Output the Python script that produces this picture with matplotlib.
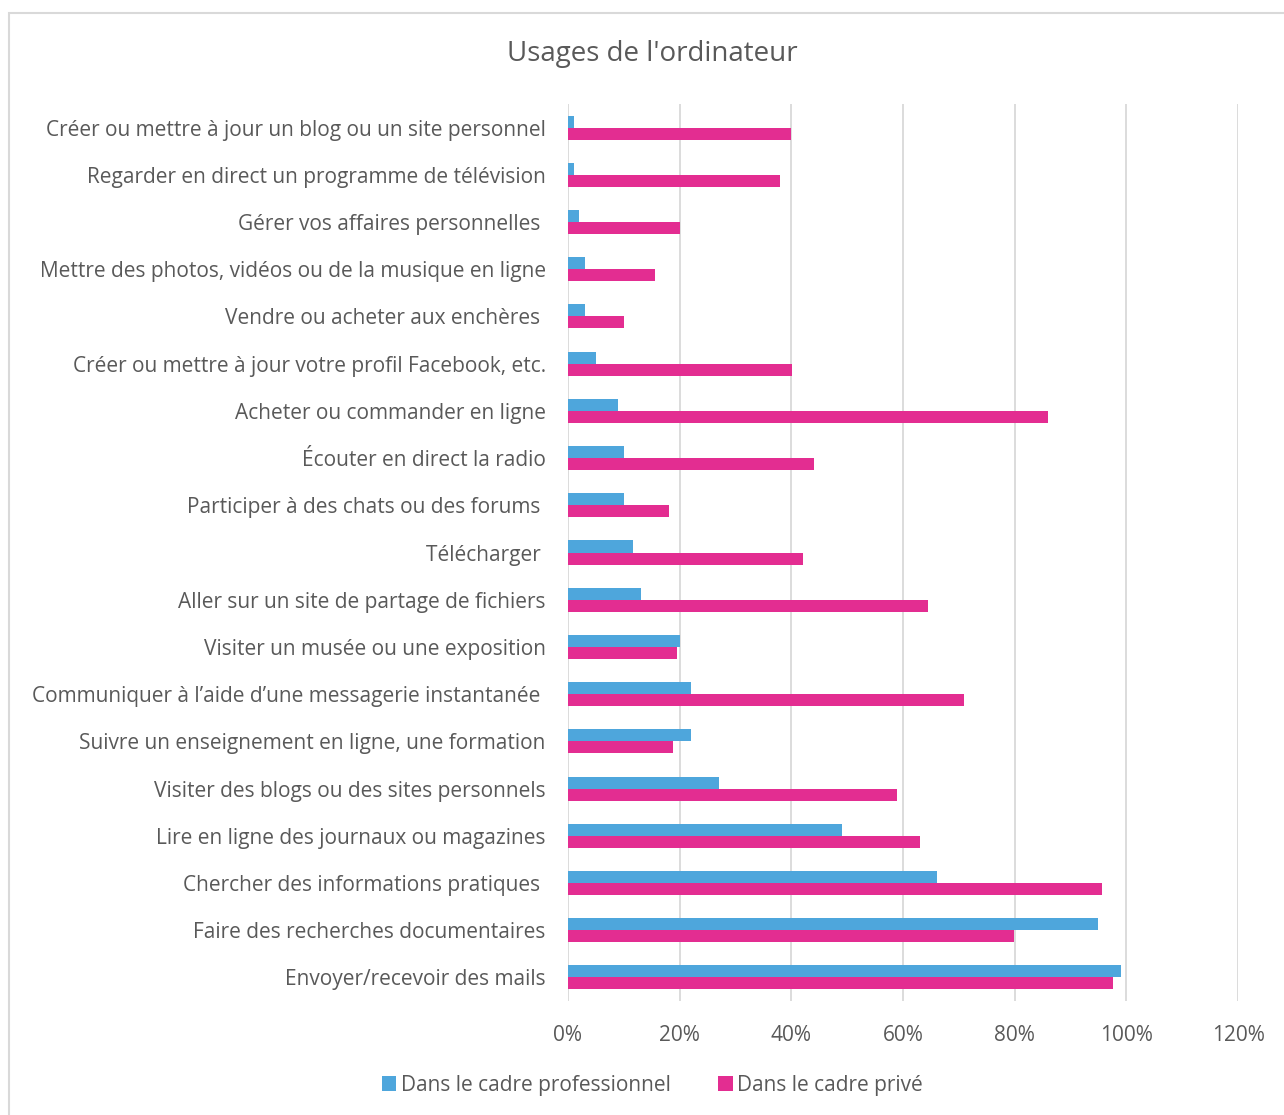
import matplotlib
matplotlib.use("Agg")
import numpy as np
from matplotlib import pyplot as plt
from matplotlib.patches import Rectangle
from matplotlib.ticker import PercentFormatter

plt.rcParams['font.family'] = ['Open Sans', 'DejaVu Sans']

title = "Usages de l'ordinateur"

# categories from top to bottom, as in the picture
categories = [
    "Créer ou mettre à jour un blog ou un site personnel",
    "Regarder en direct un programme de télévision",
    "Gérer vos affaires personnelles ",
    "Mettre des photos, vidéos ou de la musique en ligne",
    "Vendre ou acheter aux enchères ",
    "Créer ou mettre à jour votre profil Facebook, etc.",
    "Acheter ou commander en ligne",
    "Écouter en direct la radio",
    "Participer à des chats ou des forums ",
    "Télécharger ",
    "Aller sur un site de partage de fichiers",
    "Visiter un musée ou une exposition",
    "Communiquer à l\u2019aide d\u2019une messagerie instantanée ",
    "Suivre un enseignement en ligne, une formation",
    "Visiter des blogs ou des sites personnels",
    "Lire en ligne des journaux ou magazines",
    "Chercher des informations pratiques ",
    "Faire des recherches documentaires",
    "Envoyer/recevoir des mails",
]

pro = [0.01, 0.01, 0.02, 0.03, 0.03, 0.05, 0.09, 0.10, 0.10, 0.116,
       0.13, 0.20, 0.22, 0.22, 0.27, 0.49, 0.66, 0.95, 0.99]
prive = [0.40, 0.38, 0.20, 0.155, 0.10, 0.402, 0.86, 0.44, 0.18, 0.42,
         0.645, 0.195, 0.71, 0.188, 0.59, 0.63, 0.957, 0.798, 0.977]

series_names = ["Dans le cadre professionnel", "Dans le cadre privé"]
colors = ["#4EA6DC", "#E32D91"]
text_col = "#595959"

fig = plt.figure(figsize=(12.84, 11.15), dpi=100)
ax = fig.add_axes([568 / 1284, 1 - 1001 / 1115, (1238 - 568) / 1284, (1001 - 104) / 1115])

y = np.arange(len(categories))
h = 0.255
ax.barh(y - h / 2, pro, height=h, color=colors[0], label=series_names[0], zorder=3)
ax.barh(y + h / 2, prive, height=h, color=colors[1], label=series_names[1], zorder=3)

ax.set_ylim(len(categories) - 0.5, -0.5)
ax.set_xlim(0, 1.2)
ax.set_xticks(np.arange(0, 1.21, 0.2))
ax.xaxis.set_major_formatter(PercentFormatter(1.0, decimals=0))
ax.set_yticks(y)
ax.set_yticklabels(categories)
ax.tick_params(axis='both', length=0, labelsize=15, labelcolor=text_col)
ax.tick_params(axis='x', pad=17)
ax.tick_params(axis='y', pad=16)
ax.grid(axis='x', color="#D9D9D9", linewidth=1.3, zorder=0)
for s in ax.spines.values():
    s.set_visible(False)

fig.text(0.508, 1 - 54 / 1115, title, ha='center', va='center', fontsize=20, color=text_col)

fig.legend(loc='center', bbox_to_anchor=(0.508, 1 - 1085 / 1115), ncol=2, frameon=False,
           fontsize=15, labelcolor=text_col, handlelength=0.7, handleheight=0.7,
           handletextpad=0.2, columnspacing=2.3)

# light outer border of the chart
fig.patches.append(Rectangle((9 / 1284, -0.1), 1.2, 1 - 13 / 1115 + 0.1, transform=fig.transFigure,
                             fill=False, edgecolor="#D9D9D9", linewidth=1.5))

fig.savefig("out.png", dpi=100)
